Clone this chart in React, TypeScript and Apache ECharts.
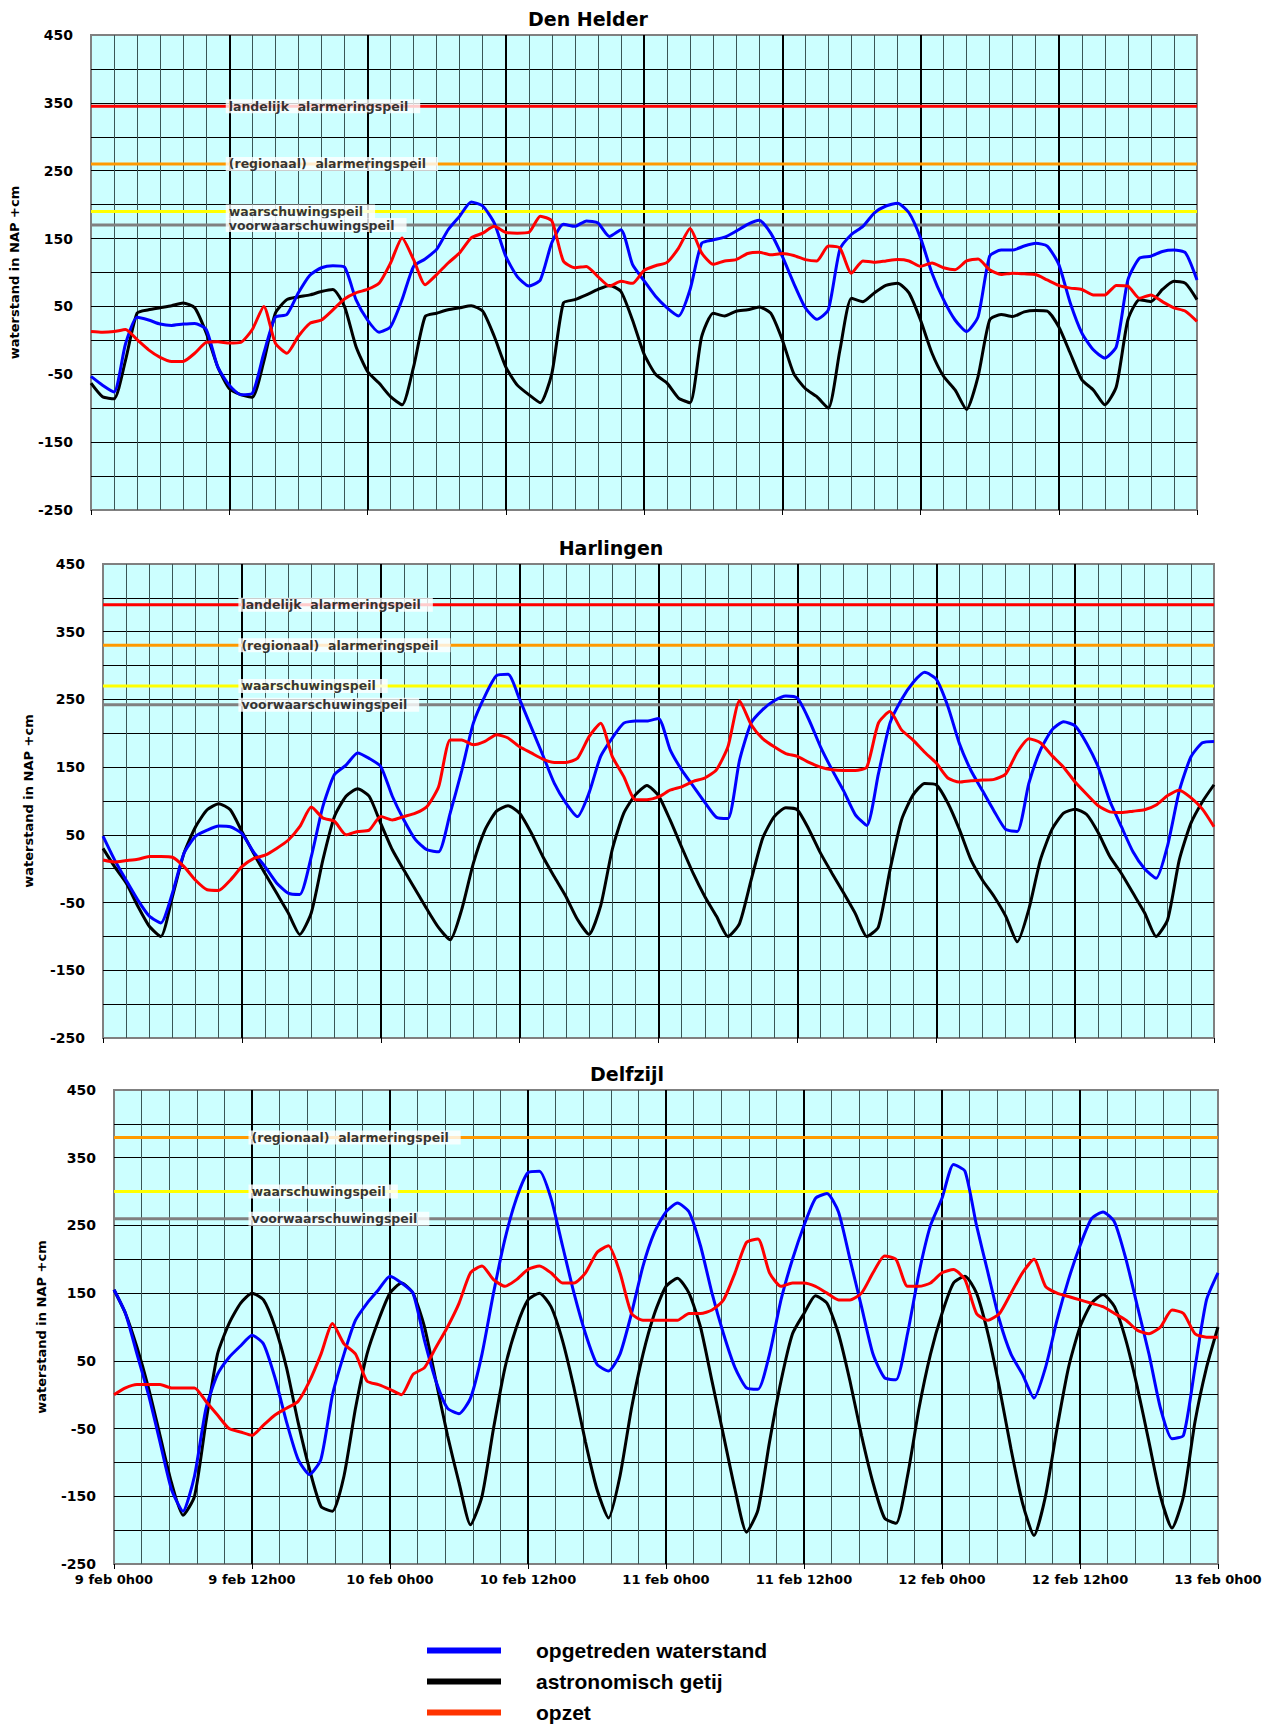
import React, { useEffect, useRef } from "react";
import * as echarts from "echarts";

// ---- data: hourly values (hour 0 = 9 feb 0h00 ... hour 96 = 13 feb 0h00) ----
const DH_OBS = [-53, -66, -76, -5, 34, 30, 24, 22, 24, 25, 16, -39, -66, -80, -78, -19, 34, 38, 70, 96, 107, 110, 108, 60, 30, 12, 20, 60, 109, 120, 134, 163, 183, 204, 198, 173, 124, 94, 80, 89, 144, 171, 168, 176, 173, 153, 163, 112, 88, 65, 48, 36, 75, 143, 148, 152, 161, 171, 177, 158, 124, 84, 48, 31, 45, 134, 156, 168, 188, 198, 202, 188, 151, 99, 60, 30, 13, 35, 124, 133, 133, 139, 143, 139, 112, 55, 11, -14, -26, -9, 89, 121, 124, 131, 133, 129, 89];
const DH_AST = [-63, -83, -86, -29, 40, 45, 48, 51, 55, 48, 11, -39, -71, -80, -84, -31, 40, 60, 64, 67, 72, 75, 50, -9, -46, -63, -83, -95, -39, 35, 40, 45, 48, 51, 43, 6, -39, -66, -80, -92, -49, 55, 60, 67, 75, 81, 72, 30, -20, -50, -63, -85, -92, 5, 40, 36, 43, 45, 49, 40, 1, -49, -71, -83, -100, -15, 62, 57, 70, 81, 84, 70, 30, -19, -53, -73, -102, -53, 30, 38, 35, 42, 44, 43, 20, -19, -58, -73, -95, -68, 30, 60, 57, 75, 87, 84, 60];
const DH_SURGE = [13, 12, 13, 16, 1, -14, -25, -31, -31, -19, -3, -2, -4, -3, 16, 50, -4, -19, 6, 25, 30, 45, 61, 70, 75, 84, 114, 151, 119, 82, 97, 114, 129, 151, 158, 168, 159, 158, 159, 183, 176, 117, 107, 109, 94, 80, 87, 84, 103, 110, 115, 136, 165, 129, 112, 117, 119, 128, 130, 126, 128, 125, 119, 117, 139, 136, 99, 117, 115, 117, 119, 117, 109, 114, 107, 104, 117, 120, 104, 97, 99, 98, 97, 89, 81, 77, 75, 67, 67, 81, 80, 62, 67, 57, 48, 43, 28];

const HA_OBS = [48, 13, -17, -46, -70, -80, -36, 23, 48, 57, 63, 62, 52, 25, 3, -21, -36, -38, 18, 92, 139, 153, 171, 163, 151, 107, 72, 43, 28, 25, 82, 145, 215, 255, 285, 287, 250, 209, 168, 126, 97, 77, 112, 166, 193, 215, 218, 218, 222, 176, 146, 122, 98, 76, 74, 160, 215, 235, 248, 255, 252, 220, 180, 146, 115, 80, 64, 140, 215, 250, 275, 290, 280, 240, 185, 145, 115, 85, 58, 55, 126, 175, 205, 217, 211, 185, 150, 100, 62, 25, 0, -14, 35, 115, 165, 186, 188];
const HA_AST = [30, 3, -21, -55, -85, -100, -41, 23, 62, 87, 96, 87, 55, 23, -7, -36, -65, -97, -65, 13, 77, 107, 118, 107, 67, 28, -2, -31, -60, -87, -105, -60, 8, 57, 85, 93, 82, 53, 18, -12, -41, -75, -97, -55, 28, 82, 109, 123, 108, 72, 32, -7, -41, -70, -100, -81, -17, 45, 77, 90, 87, 58, 23, -7, -36, -66, -100, -86, -2, 72, 109, 126, 124, 97, 58, 13, -17, -41, -70, -108, -60, 13, 58, 82, 88, 80, 53, 18, -7, -36, -65, -100, -75, 13, 67, 99, 124];
const HA_SURGE = [13, 10, 12, 14, 18, 18, 17, 3, -17, -31, -32, -17, 3, 15, 20, 30, 42, 62, 91, 75, 70, 50, 55, 57, 77, 72, 77, 82, 92, 121, 190, 190, 183, 188, 198, 193, 180, 171, 162, 157, 157, 163, 195, 215, 166, 136, 102, 102, 106, 116, 121, 129, 134, 146, 180, 248, 213, 192, 180, 170, 166, 157, 150, 146, 145, 145, 150, 215, 232, 205, 190, 172, 156, 134, 128, 130, 131, 132, 140, 172, 192, 186, 167, 150, 128, 110, 93, 84, 83, 85, 87, 94, 108, 116, 105, 88, 62];

const DZ_OBS = [155, 120, 60, 0, -70, -140, -172, -120, -20, 30, 55, 72, 88, 75, 25, -40, -95, -118, -95, 0, 60, 110, 135, 155, 175, 165, 150, 80, 20, -20, -28, -5, 60, 150, 230, 290, 328, 330, 290, 220, 150, 90, 45, 35, 60, 120, 190, 240, 270, 283, 270, 220, 150, 90, 40, 10, 8, 60, 140, 200, 250, 290, 297, 270, 200, 130, 60, 25, 22, 90, 180, 250, 290, 340, 330, 250, 180, 110, 60, 30, -5, 40, 110, 170, 220, 260, 270, 255, 200, 130, 60, -20, -65, -60, 40, 140, 180];
const DZ_AST = [155, 120, 70, 10, -60, -130, -178, -150, -40, 60, 105, 135, 150, 140, 100, 40, -40, -110, -165, -172, -120, -20, 60, 110, 150, 165, 150, 100, 20, -60, -130, -192, -150, -50, 40, 100, 140, 150, 130, 80, 10, -70, -140, -182, -120, -20, 60, 120, 160, 172, 150, 100, 20, -60, -140, -203, -170, -70, 20, 90, 120, 146, 135, 90, 20, -60, -130, -182, -190, -120, -20, 60, 120, 165, 175, 150, 90, 10, -80, -160, -208, -150, -50, 40, 100, 135, 148, 130, 80, 10, -70, -150, -197, -150, -40, 40, 100];
const DZ_SURGE = [0, 10, 15, 15, 15, 10, 10, 10, -10, -30, -50, -55, -60, -45, -30, -20, -10, 20, 60, 105, 75, 60, 20, 15, 8, 0, 30, 40, 70, 100, 135, 180, 190, 170, 160, 170, 185, 190, 180, 165, 165, 180, 210, 220, 180, 120, 110, 110, 110, 110, 120, 120, 125, 140, 180, 225, 230, 180, 160, 165, 165, 160, 150, 140, 140, 150, 180, 205, 200, 160, 160, 165, 180, 185, 170, 120, 110, 120, 150, 180, 200, 160, 150, 145, 140, 135, 130, 120, 110, 95, 90, 100, 125, 120, 90, 85, 85];

// threshold levels
const DH_LEVELS = [345, 260, 190, 170];
const HA_LEVELS = [390, 330, 270, 242];
const DZ_LEVELS = [380, 300, 260];
const LEVEL_NAMES_4 = ["landelijk  alarmeringspeil", "(regionaal)  alarmeringspeil", "waarschuwingspeil", "voorwaarschuwingspeil"];
const LEVEL_NAMES_3 = ["(regionaal)  alarmeringspeil", "waarschuwingspeil", "voorwaarschuwingspeil"];

const SERIES_NAMES = ["opgetreden waterstand", "astronomisch getij", "opzet"];
const STATIONS = ["Den Helder", "Harlingen", "Delfzijl"];

const LEVEL_COLORS_4 = ["#FF0000", "#FF9900", "#FFFF00", "#808080"];
const LEVEL_COLORS_3 = ["#FF9900", "#FFFF00", "#808080"];

const FONT = "DejaVu Sans";

const panels = [
  { name: STATIONS[0], obs: DH_OBS, ast: DH_AST, surge: DH_SURGE, levels: DH_LEVELS, lnames: LEVEL_NAMES_4, lcolors: LEVEL_COLORS_4, grid: { left: 85, top: 35, width: 1112, height: 475 }, titleX: 583, titleY: 4, minor: 2, showX: false, nameGap: 70 },
  { name: STATIONS[1], obs: HA_OBS, ast: HA_AST, surge: HA_SURGE, levels: HA_LEVELS, lnames: LEVEL_NAMES_4, lcolors: LEVEL_COLORS_4, grid: { left: 103, top: 564, width: 1111, height: 474 }, titleX: 606, titleY: 533, minor: 2, showX: false, nameGap: 68 },
  { name: STATIONS[2], obs: DZ_OBS, ast: DZ_AST, surge: DZ_SURGE, levels: DZ_LEVELS, lnames: LEVEL_NAMES_3, lcolors: LEVEL_COLORS_3, grid: { left: 114, top: 1090, width: 1104, height: 474 }, titleX: 622, titleY: 1059, minor: 2.4, showX: true, nameGap: 66 },
];

const toPairs = (arr: number[]) => arr.map((v, i) => [i, v]);

function buildOption() {
  const grid: any[] = [];
  const xAxis: any[] = [];
  const yAxis: any[] = [];
  const series: any[] = [];
  const title: any[] = [];
  const N = DH_OBS.length - 1;

  panels.forEach((p, i) => {
    grid.push({ ...p.grid, show: true, backgroundColor: "#CCFFFF", borderColor: "#808080", borderWidth: 2 });
    title.push({ text: p.name, left: p.titleX, top: p.titleY, textAlign: "center", textStyle: { fontFamily: FONT, fontWeight: "bold", fontSize: 19, color: "#000" } });
    // minor vertical grid
    xAxis.push({
      type: "value", gridIndex: i, min: 0, max: N, interval: p.minor, position: "top",
      axisLine: { show: false }, axisTick: { show: false }, axisLabel: { show: false },
      splitLine: { show: true, showMinLine: false, showMaxLine: false, lineStyle: { color: "#3a5656", width: 1 } },
    });
    // major (12h) axis
    xAxis.push({
      type: "value", gridIndex: i, min: 0, max: N, interval: 12, position: "bottom",
      axisLine: { show: false },
      axisTick: { show: true, length: 5, lineStyle: { color: "#000", width: 1 } },
      axisLabel: {
        show: p.showX, margin: 9, fontFamily: FONT, fontWeight: "bold", fontSize: 13, color: "#000",
        formatter: (v: number) => `${9 + Math.floor(v / 24)} feb ${v % 24}h00`,
      },
      splitLine: { show: true, showMinLine: false, showMaxLine: false, lineStyle: { color: "#000", width: 2 } },
    });
    yAxis.push({
      type: "value", gridIndex: i, min: -250, max: 450, interval: 50,
      axisLine: { show: false }, axisTick: { show: false },
      axisLabel: {
        margin: 18, fontFamily: FONT, fontWeight: "bold", fontSize: 14, color: "#000",
        formatter: (v: number) => ((v + 250) % 100 === 0 ? String(v) : ""),
      },
      splitLine: { show: true, showMinLine: false, showMaxLine: false, lineStyle: { color: "#000", width: 1 } },
      name: "waterstand in NAP +cm", nameLocation: "middle", nameGap: p.nameGap,
      nameTextStyle: { fontFamily: FONT, fontWeight: "bold", fontSize: 13, color: "#000" },
    });
    const xi = i * 2 + 1;
    // thresholds
    p.levels.forEach((lv, k) => {
      series.push({
        name: `${p.name} ${p.lnames[k]}`, type: "line", xAxisIndex: xi, yAxisIndex: i, silent: true,
        symbol: "none", z: 2, lineStyle: { color: p.lcolors[k], width: 3 },
        data: [[0, lv], [N, lv]],
      });
    });
    series.push({
      name: `${p.name} labels`, type: "scatter", xAxisIndex: xi, yAxisIndex: i, silent: true, z: 3,
      symbol: "rect", symbolSize: 1, itemStyle: { color: "rgba(0,0,0,0)" },
      label: {
        show: true, position: "right", distance: 0, offset: [-4, 0], backgroundColor: "#FFFFFF", padding: [1, 12, 0, 3],
        fontFamily: FONT, fontWeight: "bold", fontSize: 12.5, color: "#000",
      },
      data: p.levels.map((lv, k) => ({ value: [12, lv], label: { formatter: p.lnames[k] } })),
    });
    const common = { type: "line", xAxisIndex: xi, yAxisIndex: i, symbol: "none", smooth: 0.2, silent: true };
    series.push({ ...common, name: SERIES_NAMES[1], z: 4, lineStyle: { color: "#000000", width: 3 }, itemStyle: { color: "#000000" }, data: toPairs(p.ast) });
    series.push({ ...common, name: SERIES_NAMES[0], z: 5, lineStyle: { color: "#0000FF", width: 3 }, itemStyle: { color: "#0000FF" }, data: toPairs(p.obs) });
    series.push({ ...common, name: SERIES_NAMES[2], z: 6, lineStyle: { color: "#FF0000", width: 3 }, itemStyle: { color: "#FF0000" }, data: toPairs(p.surge) });
  });

  return {
    animation: false,
    backgroundColor: "#FFFFFF",
    title,
    grid,
    xAxis,
    yAxis,
    series,
    legend: {
      orient: "vertical", left: 427, top: 1640, height: 86, padding: 0, icon: "rect", itemWidth: 74, itemHeight: 6, itemGap: 10,
      selectedMode: false,
      textStyle: { fontFamily: "Liberation Sans", fontWeight: "bold", fontSize: 21, color: "#000", padding: [0, 0, 0, 30], lineHeight: 21 },
      data: [
        { name: SERIES_NAMES[0], itemStyle: { color: "#0000FF" } },
        { name: SERIES_NAMES[1], itemStyle: { color: "#000000" } },
        { name: SERIES_NAMES[2], itemStyle: { color: "#FF3300" } },
      ],
    },
  };
}

export default function App() {
  const ref = useRef<HTMLDivElement>(null);
  useEffect(() => {
    if (!ref.current) return;
    const chart = echarts.init(ref.current, undefined, { renderer: "svg" });
    chart.setOption(buildOption() as any);
    return () => chart.dispose();
  }, []);
  return <div ref={ref} style={{ position: "absolute", left: 0, top: 0, width: 1277, height: 1726 }} />;
}
